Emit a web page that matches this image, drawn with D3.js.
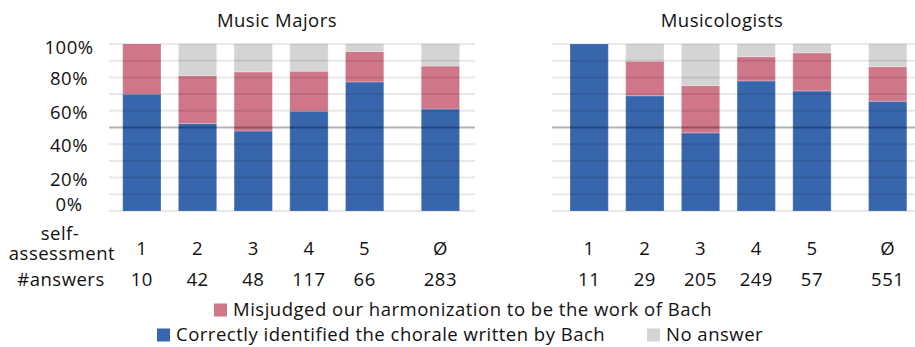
<!DOCTYPE html>
<html>
<head>
<meta charset="utf-8">
<script src="https://cdn.jsdelivr.net/npm/d3@7"></script>
<style>
  body { margin: 0; background: #fff; }
  svg text { font-family: "Open Sans", Lato, sans-serif; fill: #111; letter-spacing: 0.5px; font-weight: 500; }
</style>
</head>
<body>
<div id="chart"></div>
<script>
// data (percent of answers)
const categories = ["1", "2", "3", "4", "5", "Ø"];
const seriesKeys = ["correct", "misjudged", "noAnswer"];

const majorsAnswers = [10, 42, 48, 117, 66, 283];
const majorsCorrect = [70, 52.4, 47.9, 59.8, 77.3, 61.1];
const majorsMisjudged = [30, 28.6, 35.4, 23.9, 18.2, 25.7];
const majorsNoAnswer = [0, 19.0, 16.7, 16.3, 4.5, 13.2];

const musicologistsAnswers = [11, 29, 205, 249, 57, 551];
const musicologistsCorrect = [100, 69.0, 46.8, 77.9, 71.9, 65.7];
const musicologistsMisjudged = [0, 20.7, 28.3, 14.5, 22.8, 20.7];
const musicologistsNoAnswer = [0, 10.3, 24.9, 7.6, 5.3, 13.6];

const yTicks = [0, 20, 40, 60, 80, 100];
const gridValues = [0, 10, 20, 30, 40, 50, 60, 70, 80, 90, 100];

const colors = { correct: "#3766ac", misjudged: "#cf7689", noAnswer: "#d4d4d4" };

const W = 915, H = 347;
const FS = "18.5px";
const svg = d3.select("#chart").append("svg").attr("width", W).attr("height", H);

const y = d3.scaleLinear().domain([0, 100]).range([211, 44]);

// Ø sits a bit further away than the regular spacing
const slot = (c, i) => c === "Ø" ? 5.36 : i;

const panels = [
  { title: "Music Majors", titleX: 277, grid: [109, 475], bar0: 122.7,
    answers: majorsAnswers, correct: majorsCorrect, misjudged: majorsMisjudged, noAnswer: majorsNoAnswer },
  { title: "Musicologists", titleX: 722, grid: [552, 915], bar0: 570,
    answers: musicologistsAnswers, correct: musicologistsCorrect, misjudged: musicologistsMisjudged, noAnswer: musicologistsNoAnswer }
];

const barW = 38.3;

panels.forEach(p => {
  const g = svg.append("g");
  const x = d3.scaleLinear().domain([0, 1]).range([p.bar0, p.bar0 + 55.7]);

  const rows = categories.map((c, i) => ({
    cat: c, pos: slot(c, i),
    correct: p.correct[i], misjudged: p.misjudged[i], noAnswer: p.noAnswer[i]
  }));

  const stacked = d3.stack().keys(seriesKeys)(rows);

  g.selectAll("g.layer")
    .data(stacked)
    .join("g")
      .attr("class", "layer")
      .attr("fill", d => colors[d.key])
    .selectAll("rect")
    .data(d => d)
    .join("rect")
      .attr("x", d => x(d.data.pos))
      .attr("width", barW)
      .attr("y", d => y(d[1]))
      .attr("height", d => y(d[0]) - y(d[1]))
      .attr("stroke", "rgba(255,255,255,0.25)")
      .attr("stroke-width", 1);

  // gridlines drawn on top, semi transparent
  g.selectAll("line.grid")
    .data(gridValues)
    .join("line")
      .attr("class", "grid")
      .attr("x1", p.grid[0]).attr("x2", p.grid[1])
      .attr("y1", d => y(d)).attr("y2", d => y(d))
      .attr("stroke", d => d === 50 ? "rgba(0,0,0,0.3)" : "rgba(0,0,0,0.09)")
      .attr("stroke-width", 2);

  g.append("text")
    .attr("x", p.titleX).attr("y", 27)
    .attr("text-anchor", "middle")
    .style("font-size", FS)
    .text(p.title);

  g.selectAll("text.cat")
    .data(rows)
    .join("text")
      .attr("class", "cat")
      .attr("x", d => x(d.pos) + barW / 2)
      .attr("y", 249)
      .attr("dy", "0.35em")
      .attr("text-anchor", "middle")
      .style("font-size", FS)
      .text(d => d.cat);

  g.selectAll("text.num")
    .data(p.answers)
    .join("text")
      .attr("class", "num")
      .attr("x", (d, i) => x(rows[i].pos) + barW / 2)
      .attr("y", 280)
      .attr("dy", "0.35em")
      .attr("text-anchor", "middle")
      .style("font-size", FS)
      .text(d => d);
});

// y axis labels
svg.selectAll("text.ytick")
  .data(yTicks)
  .join("text")
    .attr("class", "ytick")
    .attr("x", 69)
    .attr("y", d => Math.min(205, Math.max(48, y(d) + 1.5)))
    .attr("dy", "0.35em")
    .attr("text-anchor", "middle")
    .style("font-size", FS)
    .text(d => d + "%");

// row headers
const selfText = svg.append("text")
  .attr("text-anchor", "middle")
  .style("font-size", FS)
  .attr("y", 234).attr("dy", "0.35em");
selfText.append("tspan").attr("x", 60).text("self-");
selfText.append("tspan").attr("x", 62).attr("dy", 19.5).text("assessment");
svg.append("text")
  .attr("text-anchor", "middle")
  .style("font-size", FS)
  .attr("x", 61).attr("y", 280).attr("dy", "0.35em")
  .text("#answers");

// legend
const legendItems = [
  { key: "misjudged", label: "Misjudged our harmonization to be the work of Bach", x: 214, y: 310 },
  { key: "correct", label: "Correctly identified the chorale written by Bach", x: 157, y: 335 },
  { key: "noAnswer", label: "No answer", x: 647, y: 335 }
];
const leg = svg.selectAll("g.legend")
  .data(legendItems)
  .join("g")
    .attr("class", "legend")
    .attr("transform", d => `translate(${d.x},${d.y})`);
leg.append("rect")
  .attr("x", 0).attr("y", -6.5).attr("width", 13).attr("height", 13)
  .attr("fill", d => colors[d.key]);
leg.append("text")
  .attr("x", 19).attr("dy", "0.35em")
  .style("font-size", FS)
  .text(d => d.label);
</script>
</body>
</html>
